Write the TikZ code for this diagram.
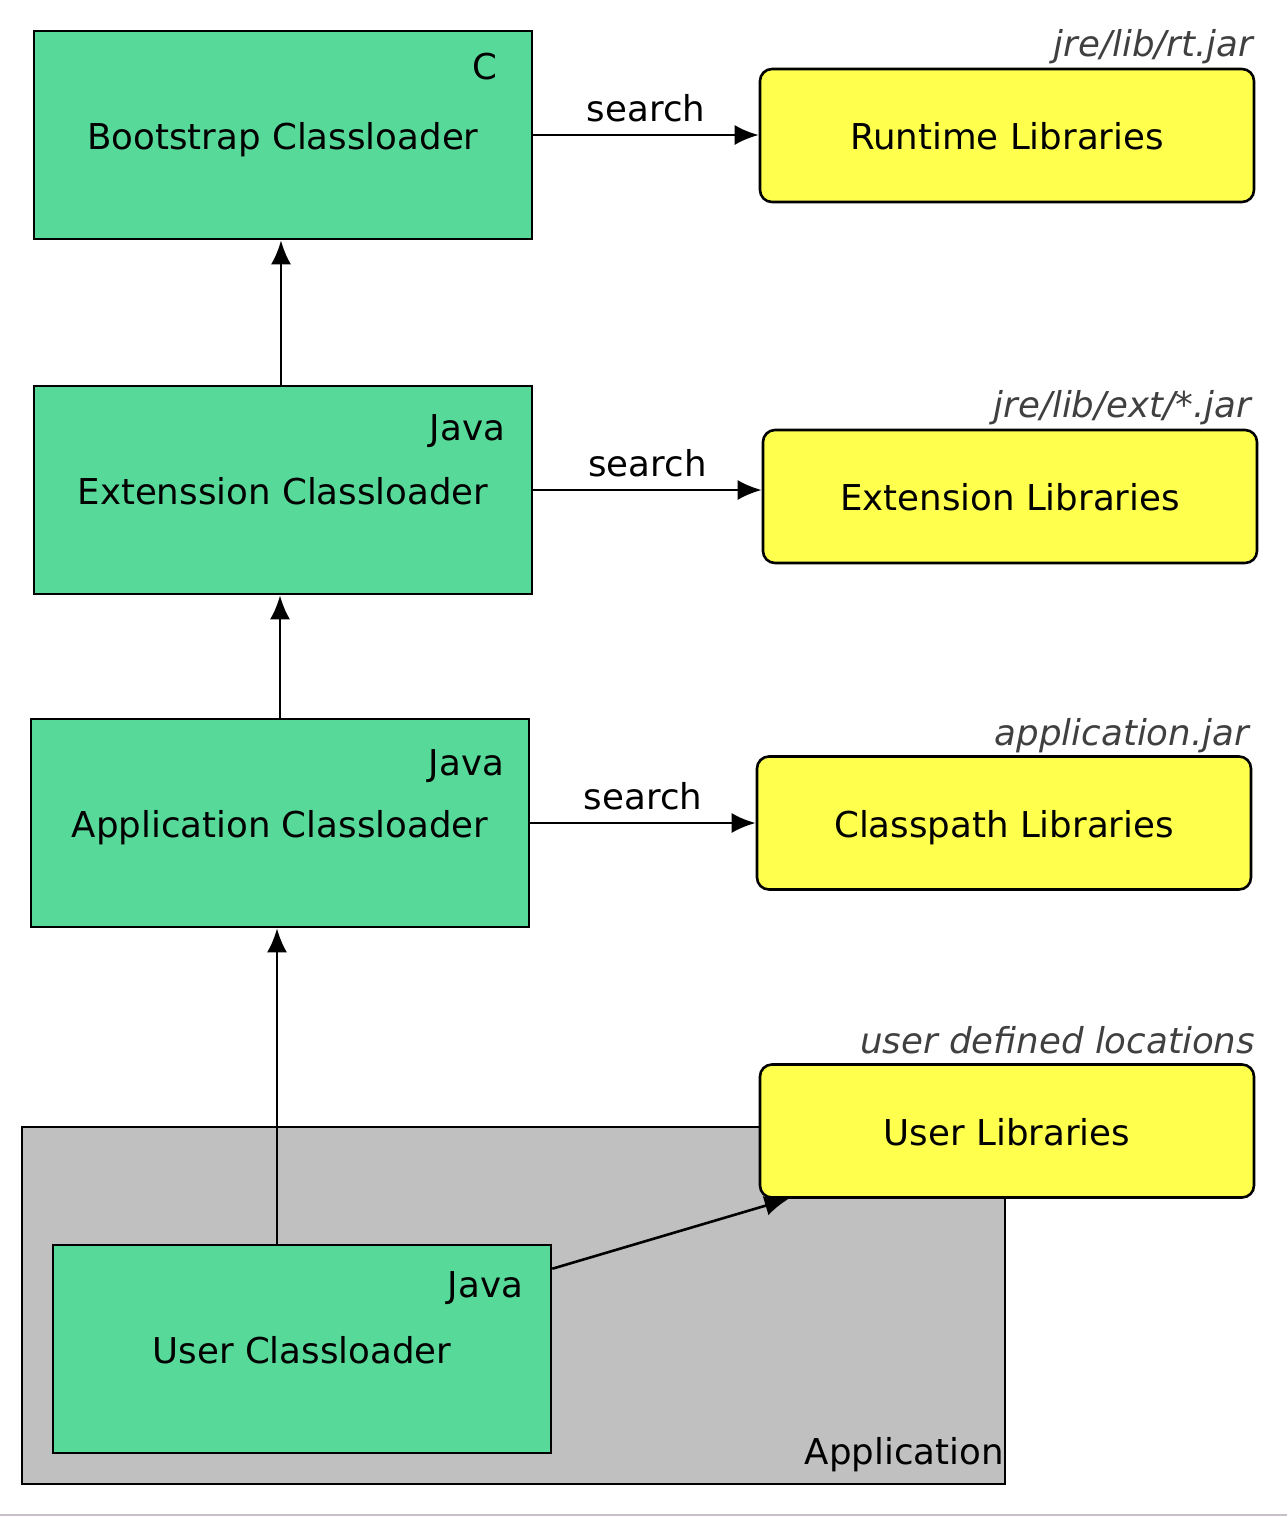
\documentclass[tikz,border=0pt]{standalone}
\usepackage{fontspec}
\setmainfont{DejaVu Sans}
\usetikzlibrary{arrows.meta}
\definecolor{loadergreen}{RGB}{87,217,154}
\definecolor{libyellow}{RGB}{255,255,77}
\definecolor{appgray}{RGB}{192,192,192}
\definecolor{pathgray}{RGB}{64,64,64}
\definecolor{edgegray}{RGB}{200,192,200}
\tikzset{
  loader/.style={draw, fill=loadergreen, line width=1.3pt, minimum width=249pt, minimum height=104pt, text height=14pt, text depth=0pt},
  library/.style={draw, fill=libyellow, line width=1.3pt, rounded corners=6pt, minimum width=247pt, minimum height=66.5pt, text height=14pt, text depth=0pt},
  lang/.style={anchor=base east, inner sep=0pt},
  location/.style={anchor=base east, inner sep=0pt, text=pathgray, font=\itshape}
}
\begin{document}
\fontsize{17.8}{21}\selectfont
\begin{tikzpicture}[x=0.5pt,y=-0.5pt,>={Latex[length=12pt,width=10pt]}]
      \useasboundingbox (0,0) rectangle (1287,1517);
      \draw[edgegray, line width=0.6pt] (0,1515) -- (1287,1515);
      % application area
      \node[draw, fill=appgray, line width=1.3pt, minimum width=491.5pt, minimum height=178.5pt] (app) at (513.5,1305.5) {};
      \node[anchor=base east, inner sep=0pt] (applabel) at ([xshift=-1pt,yshift=10.5pt]app.south east) {Application};
      % classloaders
      \node[loader] (boot) at (283,135) {Bootstrap Classloader};
      \node[loader] (ext) at (283,490) {Extenssion Classloader};
      \node[loader] (acl) at (280,823) {Application Classloader};
      \node[loader] (ucl) at (302,1349) {User Classloader};
      \node[lang] (bootlang) at ([xshift=-18pt,yshift=-25pt]boot.north east) {C};
      \node[lang] (extlang) at ([xshift=-14pt,yshift=-28pt]ext.north east) {Java};
      \node[lang] (acllang) at ([xshift=-13pt,yshift=-29pt]acl.north east) {Java};
      \node[lang] (ucllang) at ([xshift=-14.5pt,yshift=-27pt]ucl.north east) {Java};
      % libraries
      \node[library] (rt) at (1007,135.5) {Runtime Libraries};
      \node[library] (extlib) at (1010,496.5) {Extension Libraries};
      \node[library] (cplib) at (1004,823) {Classpath Libraries};
      \node[library] (ulib) at (1007,1131) {User Libraries};
      \node[location] (rtloc) at ([xshift=-1pt,yshift=5.5pt]rt.north east) {jre/lib/rt.jar};
      \node[location] (extloc) at ([xshift=-3.5pt,yshift=5.5pt]extlib.north east) {jre/lib/ext/*.jar};
      \node[location] (cploc) at ([xshift=-1.5pt,yshift=5pt]cplib.north east) {application.jar};
      \node[location] (uloc) at ([xshift=0pt,yshift=5pt]ulib.north east) {user defined locations};
      \begin{scope}[->, line width=1.3pt]
        \draw (boot.east) -- node[above] {search} (boot.east -| rt.west);
        \draw (ext.east) -- node[above] {search} (ext.east -| extlib.west);
        \draw (acl.east) -- node[above] {search} (acl.east -| cplib.west);
        \draw ([xshift=-1pt]ext.north) -- ([xshift=-1pt]boot.south);
        \draw (acl.north) -- (acl.north |- ext.south);
        \draw ([xshift=-12.5pt]ucl.north) -- ([xshift=-12.5pt]ucl.north |- acl.south);
        \draw ([yshift=-12.5pt]ucl.north east) -- ([xshift=15pt]ulib.south west);
      \end{scope}
    \end{tikzpicture}
\end{document}
